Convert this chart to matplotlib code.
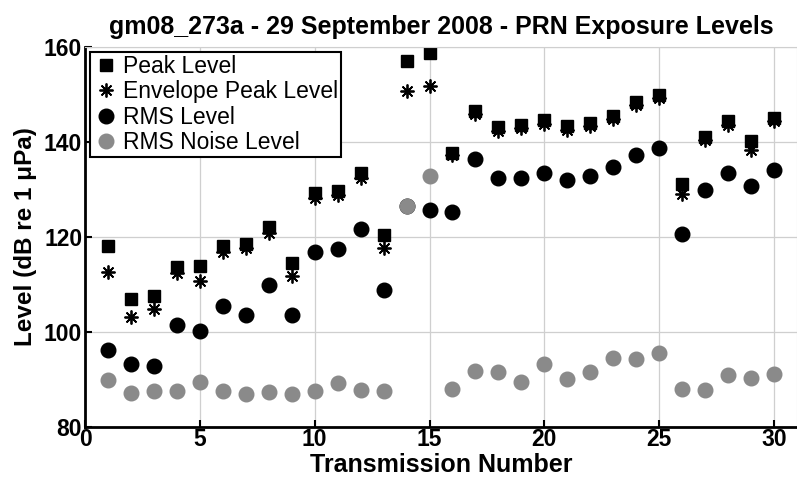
import numpy as np
import matplotlib.pyplot as plt

plt.rcParams['font.family'] = ['Liberation Sans', 'DejaVu Sans']

# transmission numbers 1..30
trans = np.arange(1, 31)

peak = [118, 106.9, 107.6, 113.7, 113.9, 118, 118.5, 122.2, 114.5, 129.3,
        129.7, 133.4, 120.4, 157.1, 158.8, 137.6, 146.6, 143.2, 143.6, 144.6,
        143.4, 144.1, 145.5, 148.5, 149.8, 131.2, 141.1, 144.4, 140.2, 145]
env_peak = [112.7, 103.2, 104.8, 112.4, 110.7, 116.9, 117.6, 120.8, 111.8, 128.3,
            128.8, 132.5, 117.6, 150.8, 151.8, 137.3, 145.9, 142.3, 143, 143.8,
            142.6, 143.3, 144.8, 147.8, 149.2, 129.1, 140.5, 143.5, 138.3, 144.5]
rms = [96.2, 93.3, 92.9, 101.5, 100.2, 105.5, 103.6, 109.9, 103.6, 116.9,
       117.4, 121.7, 108.8, 126.5, 125.7, 125.2, 136.4, 132.5, 132.4, 133.5,
       131.9, 132.9, 134.7, 137.3, 138.8, 120.6, 129.9, 133.5, 130.7, 134.1]
rms_noise = [89.9, 87.2, 87.6, 87.6, 89.5, 87.6, 86.9, 87.3, 86.9, 87.6,
             89.3, 87.8, 87.6, 126.6, 132.8, 88.1, 91.8, 91.5, 89.5, 93.2,
             90.1, 91.5, 94.6, 94.3, 95.6, 88.1, 87.8, 90.9, 90.3, 91.2]

fig = plt.figure(figsize=(7.97, 4.87), dpi=100)
ax = fig.add_axes([85/797, 1-427/487, 1-85/797, 380/487])

ax.grid(True, color='#cfcfcf', lw=0.9)
ax.set_axisbelow(True)

ax.plot(trans, peak, 's', color='k', ms=8.5, label='Peak Level')
ax.plot(trans, env_peak, ls='none', marker=(8, 2, 0), color='k', ms=10, mew=1.3,
        label='Envelope Peak Level')
ax.plot(trans, rms, 'o', color='k', ms=10.5, label='RMS Level')
ax.plot(trans, rms_noise, 'o', color='#8a8a8a', ms=10.5, label='RMS Noise Level')

ax.set_xlim(0, 31)
ax.set_ylim(80, 160)
ax.set_xticks([0, 5, 10, 15, 20, 25, 30])
ax.set_yticks([80, 100, 120, 140, 160])
ax.tick_params(direction='in', length=5, width=1.5, labelsize=16.5, pad=2)
ax.tick_params(axis='x', pad=1)
for lab in ax.get_xticklabels() + ax.get_yticklabels():
    lab.set_fontweight('bold')

for s in ['left', 'bottom']:
    ax.spines[s].set_linewidth(2)
for s in ['top', 'right']:
    ax.spines[s].set_color('#cfcfcf')

ax.set_xlabel('Transmission Number', fontsize=18, fontweight='bold', labelpad=1)
ax.set_ylabel('Level (dB re 1 \u03bcPa)', fontsize=17.5, fontweight='bold', labelpad=5)
ax.set_title('gm08_273a - 29 September 2008 - PRN Exposure Levels',
             fontsize=18, fontweight='bold', pad=9)

leg = ax.legend(loc='upper left', fontsize=16.5, fancybox=False, framealpha=1,
                edgecolor='k', handletextpad=0.2, borderaxespad=0.2,
                labelspacing=0.1, handlelength=1.1, borderpad=0.15)
leg.get_frame().set_linewidth(1.5)

plt.savefig('out.png', dpi=100)
